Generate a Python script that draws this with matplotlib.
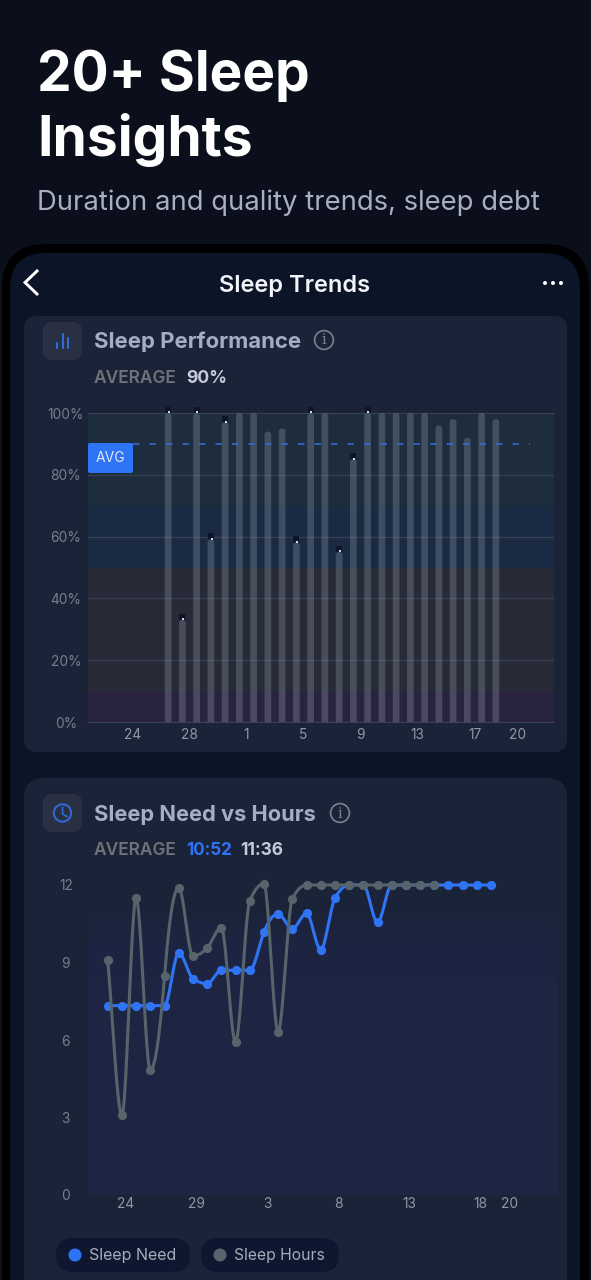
import numpy as np
import matplotlib
matplotlib.use("Agg")
import matplotlib.pyplot as plt
from matplotlib.colors import LinearSegmentedColormap
from matplotlib.patches import FancyBboxPatch, Circle

# ---------- data ----------
perf_days = [26.5 - 24 + i for i in range(24)]
perf_values = [100, 33, 100, 59, 97, 100, 100, 94, 95, 58, 100, 100,
               55, 85, 100, 100, 100, 100, 100, 96, 98, 92, 100, 98]
perf_flagged = [0, 1, 2, 3, 4, 9, 10, 12, 13, 14]
perf_xticks = [0, 4, 8, 12, 16, 20, 24, 27]
perf_xlabels = ["24", "28", "1", "5", "9", "13", "17", "20"]
perf_yticks = [0, 20, 40, 60, 80, 100]
perf_ylabels = ["0%", "20%", "40%", "60%", "80%", "100%"]
perf_avg = 90
band_edges = [0, 10, 50, 70, 100]
band_colors = ["#2a2340", "#282a38", "#1b2a43", "#1d2d3e"]

sleep_need = [7.33, 7.33, 7.33, 7.33, 7.33, 9.37, 8.38, 8.18, 8.7, 8.7, 8.7, 10.17, 10.88,
              10.31, 10.9, 9.5, 11.48, 12, 12, 10.55, 12, 12, 12, 12, 12, 12, 12, 12]
sleep_hours = [9.08, 3.1, 11.5, 4.83, 8.46, 11.9, 9.26, 9.56, 10.35, 5.93, 11.37, 12.05,
               6.32, 11.47, 12, 12, 12, 12, 12, 12, 12, 12, 12, 12]
line_xticks = [1.27, 6.27, 11.27, 16.27, 21.27, 26.27, 28.27]
line_xlabels = ["24", "29", "3", "8", "13", "18", "20"]
line_yticks = [0, 3, 6, 9, 12]

BLUE = "#2f74f5"
GRAY = "#56646c"
CARD = "#1b2338"
W, H = 591, 1280
plt.rcParams["font.family"] = ["Inter", "Open Sans", "DejaVu Sans"]

fig = plt.figure(figsize=(W / 100, H / 100), dpi=100)
fig.patch.set_facecolor("#0b0e1b")
bg = fig.add_axes([0, 0, 1, 1])
bg.set_xlim(0, W)
bg.set_ylim(H, 0)
bg.axis("off")
renderer = fig.canvas.get_renderer()


def pax(x0, y0, x1, y1):
    return fig.add_axes([x0 / W, 1 - y1 / H, (x1 - x0) / W, (y1 - y0) / H])


def box(x0, y0, x1, y1, r, color, z=1):
    p = FancyBboxPatch((x0 + r, y0 + r), x1 - x0 - 2 * r, y1 - y0 - 2 * r,
                       boxstyle=f"round,pad={r},rounding_size={r}", fc=color, ec="none", zorder=z)
    bg.add_patch(p)
    return p


def txt(s, x, y, width, color, weight="normal", ha="left", va="baseline", z=5):
    t = bg.text(x, y, s, color=color, fontweight=weight, ha=ha, va=va, fontsize=10, zorder=z)
    w = t.get_window_extent(renderer).width
    t.set_fontsize(10 * width / w)
    return t


# page heading
txt("20+ Sleep", 37, 91, 273, "white", "bold")
txt("Insights", 37, 156, 216, "white", "bold")
txt("Duration and quality trends, sleep debt", 37, 210, 505, "#a9aec4")

# phone shell
box(2, 244, 589, 1340, 44, "#000000", 1)
box(10, 253, 580, 1340, 36, "#0c1528", 2)
bg.plot([37, 25, 37], [271, 282.5, 294], color="white", lw=2.1, solid_joinstyle="miter", zorder=5)
txt("Sleep Trends", 295, 292, 151, "#f2f4f8", "semibold", ha="center")
for cx in (545, 553, 561):
    bg.add_patch(Circle((cx, 283), 2, fc="white", ec="none", zorder=5))

# cards
box(24, 316, 567, 752, 13, CARD, 3)
box(24, 778, 567, 1340, 20, CARD, 3)
box(43, 322, 82, 360, 9, "#2a3044", 4)
box(43, 794, 82, 832, 9, "#2a3044", 4)

# bar glyph
for bx, b0, b1 in ((57, 343, 348), (62.5, 334, 348), (68, 338, 348)):
    bg.plot([bx, bx], [b0, b1], color="#2f6bd8", lw=1.5, zorder=5, solid_capstyle="round")
# clock glyph
bg.add_patch(Circle((62.5, 813), 8.7, fc="none", ec="#2f6bd8", lw=1.4, zorder=5))
bg.plot([62.5, 62.5, 67], [807.5, 814, 816.5], color="#2f6bd8", lw=1.2, zorder=5)

txt("Sleep Performance", 94, 348, 207, "#a3aec2", "bold")
txt("Sleep Need vs Hours", 94, 821, 222, "#a3aec2", "bold")
for cx, cy in ((324, 340), (340, 813)):
    bg.add_patch(Circle((cx, cy), 9.4, fc="none", ec="#7a8190", lw=1.2, zorder=5))
    bg.text(cx, cy + 0.5, "i", color="#7a8190", fontsize=10.5, ha="center", va="center", zorder=5,
            family="DejaVu Serif")

txt("AVERAGE", 94, 383, 83, "#6f7378", "semibold")
txt("90%", 186, 383, 41, "#c5ccd8", "bold")
txt("AVERAGE", 94, 855, 83, "#6f7378", "semibold")
txt("10:52", 186, 855, 46, BLUE, "bold")
txt("11:36", 240, 855, 43, "#c5ccd8", "bold")

# ---------- chart 1 ----------
ax1 = pax(88, 413, 554, 722)
ax1.set_xlim((88 - 132.5) / 14.25, (554 - 132.5) / 14.25)
ax1.set_ylim(0, 100)
ax1.set_facecolor("none")
for lo, hi, c in zip(band_edges[:-1], band_edges[1:], band_colors):
    ax1.axhspan(lo, hi, color=c, lw=0, zorder=0)
ax1.set_yticks(perf_yticks, perf_ylabels)
ax1.set_xticks(perf_xticks, perf_xlabels)
ax1.grid(axis="y", color="#364252", lw=0.9, zorder=1)
ax1.get_ygridlines()[0].set_clip_on(False)
ax1.get_ygridlines()[-1].set_clip_on(False)
bar_w = 0.47
for d, v in zip(perf_days, perf_values):
    # rounded top, flat foot: the shape runs below zero and the axes clip it
    ax1.add_patch(FancyBboxPatch((d - bar_w / 2, -6), bar_w, v + 6,
                                 boxstyle=f"round,pad=0,rounding_size={bar_w / 2}",
                                 mutation_aspect=14.25 / 3.09, fc="#8fa0a8", ec="none",
                                 alpha=0.31, zorder=2))
for i in perf_flagged:
    ax1.scatter(perf_days[i], perf_values[i] + 1.1, marker="s", s=20, color="#0e1528",
                lw=0, zorder=4, clip_on=False)
    ax1.scatter(perf_days[i] + 0.06, perf_values[i] + 0.2, marker="s", s=3, color="#d5dae0",
                lw=0, zorder=5, clip_on=False)
ax1.plot([(133 - 132.5) / 14.25, (530 - 132.5) / 14.25], [perf_avg, perf_avg], color="#3470d8",
         lw=1.1, dashes=(4.2, 6.6), zorder=3)

# ---------- chart 2 ----------
ax2 = pax(88, 885, 558, 1195)
xl2 = ((88 - 107.7) / 14.2, (558 - 107.7) / 14.2)
ramp = LinearSegmentedColormap.from_list("plotbg", [CARD, "#1e2542"])
ax2.imshow(np.array([[0.0], [0.9], [1.0], [1.0], [1.0], [1.0], [1.0], [1.0]]), cmap=ramp, vmin=0, vmax=1,
           extent=(*xl2, 0, 12), aspect="auto", interpolation="bilinear", zorder=0)
ax2.set_xlim(*xl2)
ax2.set_ylim(0, 12)
ax2.set_yticks(line_yticks, [str(v) for v in line_yticks])
ax2.set_xticks(line_xticks, line_xlabels)


def monotone(y, n=24):
    y = np.asarray(y, float)
    x = np.arange(len(y), dtype=float)
    s = np.diff(y)
    m = np.zeros_like(y)
    m[0], m[-1] = s[0], s[-1]
    for i in range(1, len(y) - 1):
        if s[i - 1] * s[i] > 0:
            m[i] = (np.sign(s[i - 1]) * min(abs(s[i - 1]), abs(s[i]), 0.5 * abs(s[i - 1] + s[i])) * 2)
    xs, ys = [], []
    for i in range(len(y) - 1):
        t = np.linspace(0, 1, n)
        h00 = 2 * t**3 - 3 * t**2 + 1
        h10 = t**3 - 2 * t**2 + t
        h01 = -2 * t**3 + 3 * t**2
        h11 = t**3 - t**2
        xs.append(x[i] + t)
        ys.append(h00 * y[i] + h10 * m[i] + h01 * y[i + 1] + h11 * m[i + 1])
    return np.concatenate(xs), np.concatenate(ys)


for vals, col, z in ((sleep_need, BLUE, 3), (sleep_hours, GRAY, 4)):
    cx, cy = monotone(vals)
    ax2.plot(cx, cy, color=col, lw=2.2, zorder=z, clip_on=False)
    ax2.plot(np.arange(len(vals)), vals, ls="none", marker="o", ms=6.6, mfc=col, mec="none",
             zorder=z, clip_on=False)

for ax, xpad in ((ax1, 4.5), (ax2, 1.5)):
    for s in ax.spines.values():
        s.set_visible(False)
    ax.tick_params(length=0, labelsize=9.9)
    ax.tick_params(axis="y", pad=16, colors="#767e8f")
    ax.tick_params(axis="x", pad=xpad, colors="#8f97a7")
    for lb in ax.get_yticklabels():
        lb.set_ha("center")
    ax.set_axisbelow(True)

# AVG badge (above chart 1)
over = fig.add_axes([0, 0, 1, 1], facecolor="none")
over.set_xlim(0, W)
over.set_ylim(H, 0)
over.axis("off")
over.add_patch(FancyBboxPatch((90, 445), 41, 26, boxstyle="round,pad=2,rounding_size=2",
                              fc=BLUE, ec="none"))
over.text(110.5, 458.5, "AVG", color="#dfe8fb", fontsize=10, ha="center", va="center")

# legend pills
box(56, 1238, 190, 1272, 17, "#0f1730", 5)
box(201, 1238, 339, 1272, 17, "#0f1730", 5)
bg.add_patch(Circle((75, 1255), 6.5, fc=BLUE, ec="none", zorder=6))
bg.add_patch(Circle((220, 1255), 6.5, fc=GRAY, ec="none", zorder=6))
txt("Sleep Need", 89, 1260, 88, "#a4acba", z=6)
txt("Sleep Hours", 234, 1260, 91, "#a4acba", z=6)

fig.savefig("out.png", dpi=100, facecolor=fig.get_facecolor())
